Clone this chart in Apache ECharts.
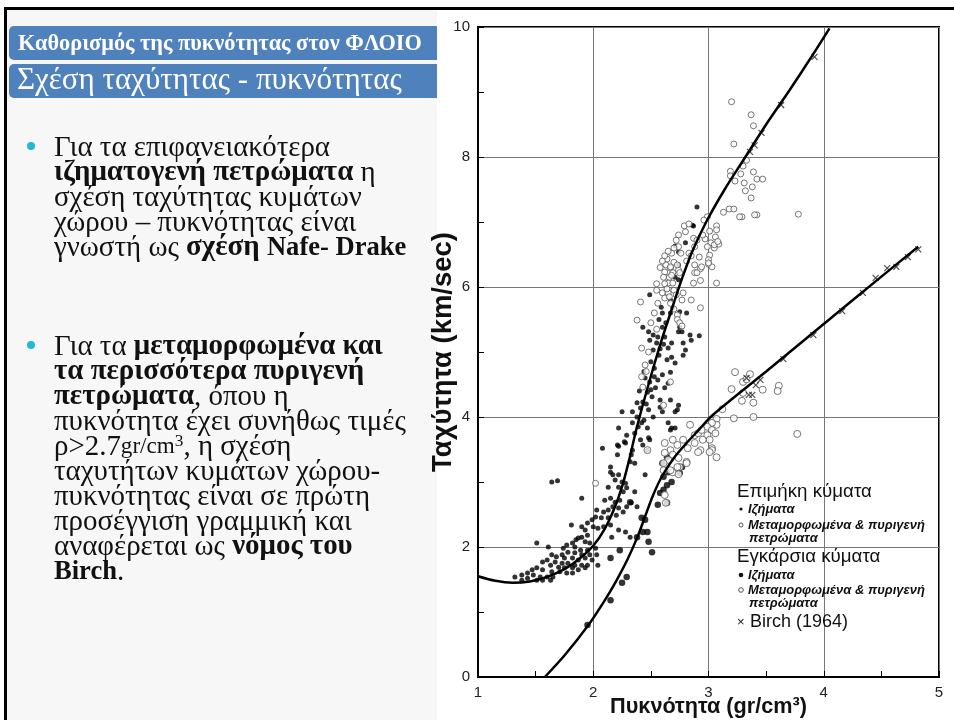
<!DOCTYPE html>
<html><head><meta charset="utf-8">
<script src="https://cdn.jsdelivr.net/npm/echarts@6/dist/echarts.min.js"></script>
<style>html,body{margin:0;padding:0;background:#fff}#c{width:954px;height:720px}</style>
</head><body><div id="c"></div>
<script>
// ---------- data ----------
const xTicks = [1, 2, 3, 4, 5];
const yTicks = [0, 2, 4, 6, 8, 10];
const xName = 'Πυκνότητα (gr/cm³)';
const yName = 'Ταχύτητα (km/sec)';

// Nafe-Drake curves
const curveP = [[1.0,1.55],[1.15,1.48],[1.3,1.45],[1.45,1.47],[1.6,1.54],[1.75,1.66],[1.88,1.82],[2.0,2.02],[2.1,2.28],[2.18,2.58],[2.25,2.93],[2.31,3.33],[2.37,3.78],[2.44,4.25],[2.52,4.75],[2.6,5.22],[2.68,5.65],[2.76,6.08],[2.86,6.55],[2.98,7.0],[3.14,7.5],[3.32,8.0],[3.5,8.5],[3.7,9.02],[3.9,9.56],[4.05,9.98]];
const curveS = [[1.58,0],[1.75,0.33],[1.95,0.78],[2.1,1.18],[2.2,1.48],[2.3,1.82],[2.38,2.14],[2.45,2.47],[2.52,2.8],[2.6,3.1],[2.7,3.37],[2.8,3.58],[2.92,3.81],[3.03,4.02],[3.5,4.7],[4.0,5.43],[4.5,6.16],[4.82,6.62]];

// P-waves, sediments
const pSed = [[1.32,1.54],[1.38,1.49],[1.38,1.57],[1.43,1.52],[1.43,1.6],[1.47,1.65],[1.48,1.57],[1.51,1.49],[1.51,1.68],[1.54,1.54],[1.56,1.49],[1.56,1.65],[1.56,1.77],[1.6,1.54],[1.6,1.8],[1.63,1.49],[1.63,1.72],[1.64,1.62],[1.65,1.54],[1.67,1.77],[1.68,1.85],[1.64,1.88],[1.7,1.69],[1.71,1.62],[1.73,1.75],[1.73,1.88],[1.74,1.98],[1.75,1.83],[1.75,1.68],[1.77,1.6],[1.77,2.03],[1.78,1.75],[1.78,1.92],[1.81,2.34],[1.82,1.68],[1.82,1.6],[1.82,1.83],[1.82,2.06],[1.84,1.72],[1.84,1.91],[1.84,2.0],[1.85,2.11],[1.87,1.65],[1.87,1.8],[1.87,2.14],[1.89,1.95],[1.9,1.72],[1.9,1.88],[1.9,2.15],[1.9,2.31],[1.9,2.75],[1.93,1.68],[1.93,1.83],[1.93,2.08],[1.93,2.26],[1.95,1.72],[1.95,1.95],[1.95,2.18],[1.95,2.37],[1.97,1.88],[1.97,2.06],[1.99,1.8],[1.99,2.42],[2.0,2.31],[2.02,1.98],[2.02,2.46],[2.03,1.88],[2.03,2.57],[2.04,1.72],[2.04,2.29],[2.07,2.45],[2.08,3.52],[2.09,2.31],[2.09,2.54],[2.1,2.72],[2.13,2.45],[2.13,2.57],[2.13,2.92],[2.15,2.34],[2.15,2.75],[2.15,3.15],[2.15,3.23],[2.16,2.15],[2.17,2.62],[2.17,3.11],[2.19,2.69],[2.19,3.03],[2.2,2.49],[2.21,3.42],[2.21,3.57],[2.22,2.26],[2.22,2.6],[2.22,2.92],[2.22,3.11],[2.22,3.55],[2.22,3.83],[2.23,2.72],[2.25,3.0],[2.25,4.08],[2.26,2.54],[2.26,2.85],[2.27,3.62],[2.28,2.23],[2.28,2.98],[2.28,3.6],[2.29,3.72],[2.29,2.62],[2.29,2.91],[2.32,2.15],[2.32,3.31],[2.33,2.68],[2.33,3.42],[2.34,3.49],[2.34,3.91],[2.34,4.08],[2.36,2.85],[2.36,3.29],[2.36,3.75],[2.38,2.62],[2.38,4.0],[2.38,4.22],[2.41,3.65],[2.41,4.14],[2.42,3.91],[2.43,4.23],[2.43,5.38],[2.43,3.57],[2.45,3.11],[2.47,3.49],[2.47,3.83],[2.47,4.38],[2.48,3.68],[2.48,4.11],[2.48,5.31],[2.49,3.65],[2.49,4.54],[2.49,5.18],[2.49,5.88],[2.51,4.31],[2.52,4.0],[2.52,5.03],[2.52,5.26],[2.54,4.45],[2.55,5.14],[2.56,4.57],[2.56,5.23],[2.58,4.15],[2.58,4.26],[2.59,5.69],[2.6,4.08],[2.6,4.65],[2.6,5.38],[2.62,4.45],[2.62,5.23],[2.64,4.88],[2.65,3.91],[2.65,4.52],[2.65,5.06],[2.67,3.8],[2.67,4.26],[2.67,4.69],[2.67,5.6],[2.67,5.8],[2.68,3.83],[2.68,4.92],[2.68,5.14],[2.69,5.68],[2.71,3.83],[2.71,4.08],[2.71,4.83],[2.71,6.15],[2.71,6.63],[2.73,4.11],[2.74,4.18],[2.74,5.31],[2.74,6.11],[2.74,6.34],[2.74,6.54],[2.75,5.38],[2.75,5.62],[2.77,5.31],[2.78,4.95],[2.78,5.14],[2.8,5.03],[2.8,6.68],[2.81,5.6],[2.84,5.26],[2.85,5.18],[2.86,6.95],[2.87,6.94],[2.9,7.23],[2.92,5.25],[1.64,3.0],[1.69,3.02],[1.51,2.06],[1.61,2.0],[2.44,4.7],[2.5,4.85],[2.53,4.75],[2.57,4.95],[2.45,4.6],[2.4,4.4],[2.39,3.85],[2.44,3.95],[2.46,4.2],[2.5,4.42],[2.53,4.62],[2.58,5.05],[2.61,5.12],[2.63,5.45],[2.57,5.5],[2.6,5.6]];

// P-waves, metamorphic & igneous rocks
const pMet = [[3.2,8.85],[3.37,8.65],[3.39,8.48],[3.22,8.2],[3.33,7.95],[3.19,7.78],[3.19,7.71],[3.23,7.63],[3.28,7.74],[3.3,7.86],[3.39,7.77],[3.42,7.66],[3.47,7.66],[3.31,7.6],[3.38,7.54],[3.32,7.48],[3.37,7.37],[3.78,7.12],[3.42,7.11],[3.29,7.08],[3.13,7.15],[3.18,7.2],[3.22,7.2],[2.99,7.08],[2.96,7.03],[2.79,6.94],[2.83,6.97],[3.07,6.94],[3.07,6.88],[3.01,6.86],[2.87,6.75],[2.8,6.85],[2.74,6.8],[2.72,6.72],[2.97,6.74],[3.06,6.77],[3.02,6.68],[3.09,6.66],[3.05,6.6],[2.99,6.62],[2.74,6.62],[2.76,6.52],[2.68,6.52],[2.83,6.52],[3.01,6.49],[2.92,6.46],[3.0,6.42],[3.0,6.35],[3.03,6.31],[2.64,6.43],[2.7,6.38],[2.63,6.34],[2.67,6.29],[2.74,6.26],[2.69,6.22],[2.62,6.23],[2.61,6.15],[2.88,6.22],[2.93,6.28],[2.66,6.15],[2.67,6.31],[2.73,6.34],[2.68,6.18],[2.75,6.22],[2.65,6.06],[2.69,6.06],[2.6,5.91],[2.65,5.91],[2.78,5.91],[2.62,5.83],[2.77,5.8],[2.41,5.77],[2.93,5.68],[2.38,5.49],[2.73,5.57],[2.88,6.34],[2.94,6.31],[2.9,6.22],[2.87,6.06],[3.07,6.06],[3.0,6.37],[2.42,5.06],[2.45,4.8],[2.42,4.62],[2.43,4.46],[2.67,4.54],[2.61,4.18],[3.27,7.08],[3.4,7.11],[2.62,6.05],[2.64,5.97],[2.66,5.85],[2.7,5.95],[2.72,5.88],[2.67,5.75],[2.7,5.66],[2.73,5.5],[2.75,5.45],[2.77,5.4],[2.58,6.3],[2.6,6.4],[2.62,6.48],[2.65,6.55],[2.7,6.6],[2.55,6.05],[2.56,5.75],[2.53,5.6],[2.5,5.45],[2.55,5.35],[2.48,5.0],[2.46,4.7],[2.55,5.95],[2.93,6.1],[2.85,5.8],[2.81,6.4],[2.85,6.48],[2.88,6.62],[2.9,6.72],[2.95,6.8],[3.05,6.65],[3.08,6.7],[2.02,2.98]];

// S-waves, sediments
const sSed = [[1.95,0.8],[2.15,1.18],[2.25,1.45],[2.29,1.54],[2.15,1.83],[2.23,1.95],[2.38,2.15],[2.43,2.23],[2.47,2.23],[2.48,2.08],[2.51,1.92],[2.45,2.42],[2.42,2.45],[2.32,2.69],[2.56,2.65],[2.64,2.68],[2.58,2.83],[2.61,2.88],[2.64,2.95],[2.68,3.0],[2.61,3.08],[2.65,3.15],[2.6,3.29],[2.77,3.23],[2.75,3.14],[2.64,3.38]];

// S-waves, metamorphic & igneous rocks
const sMet = [[3.23,4.69],[3.36,4.66],[3.3,4.54],[3.33,4.58],[3.2,4.43],[3.3,4.37],[3.47,4.42],[3.61,4.48],[3.6,4.4],[3.29,4.25],[3.39,4.22],[3.12,4.12],[3.22,3.98],[3.39,4.0],[3.77,3.74],[3.07,3.97],[3.07,3.88],[3.03,3.91],[2.99,3.85],[3.03,3.8],[3.06,3.75],[2.99,3.72],[3.01,3.65],[2.95,3.65],[3.03,3.52],[3.07,3.38],[2.93,3.49],[2.88,3.6],[2.88,3.72],[2.84,3.88],[2.78,3.65],[2.82,3.52],[2.73,3.57],[2.69,3.65],[2.62,3.6],[2.67,3.49],[2.62,3.45],[2.69,3.42],[2.65,3.34],[2.61,3.29],[2.74,3.37],[2.81,3.31],[2.75,3.23],[2.61,3.18],[2.69,3.15],[2.74,3.12],[2.91,3.75],[2.94,3.8],[2.47,3.49],[3.03,3.49],[2.67,3.18],[2.73,3.23],[2.81,3.29],[2.91,3.46],[3.01,3.46],[2.62,2.8],[2.63,2.68]];

// Birch (1964)
const birch = [[3.36,8.08],[3.4,8.18],[3.46,8.37],[3.63,8.8],[3.92,9.54],[3.35,4.34],[3.38,4.34],[3.41,4.49],[3.45,4.57],[3.33,4.6],[3.65,4.89],[3.91,5.26],[4.16,5.63],[4.34,5.91],[4.45,6.14],[4.55,6.29],[4.63,6.31],[4.73,6.46],[4.82,6.58]];

// slide text
const title1 = 'Καθορισμός της πυκνότητας στον ΦΛΟΙΟ';
const title2 = 'Σχέση ταχύτητας - πυκνότητας';
const bullet1 = ['Για τα επιφανειακότερα', '{b|ιζηματογενή πετρώματα} η', 'σχέση ταχύτητας κυμάτων', 'χώρου – πυκνότητας είναι', 'γνωστή ως {b|σχέση }{l|Nafe- Drake}'];
const bullet2 = ['Για τα {b|μεταμορφωμένα και}', '{b|τα περισσότερα πυριγενή}', '{b|πετρώματα}, όπου η', 'πυκνότητα έχει συνήθως τιμές', 'ρ>2.7{s|gr/cm}{t|3}{n|, η σχέση}', 'ταχυτήτων κυμάτων χώρου-', 'πυκνότητας είναι σε πρώτη', 'προσέγγιση γραμμική και', 'αναφέρεται ως {b|νόμος του}', '{l|Birch}.'];
const legHead1 = 'Επιμήκη κύματα';
const legHead2 = 'Εγκάρσια κύματα';
const legSed = 'Ιζήματα';
const legMet1 = 'Μεταμορφωμένα & πυριγενή';
const legMet2 = 'πετρώματα';
const legBirch = 'Birch (1964)';

// ---------- layout helpers ----------
const mctx = document.createElement('canvas').getContext('2d');
function fit(text, weight, style, family, target) {
  mctx.font = style + ' ' + weight + ' 100px ' + family;
  return 100 * target / mctx.measureText(text).width;
}
const SERIF = '"Liberation Serif", serif';
const SANS = '"Liberation Sans", Arial, sans-serif';
const bodySize = fit('πυκνότητα έχει συνήθως τιμές', 'normal', 'normal', SERIF, 352);
const t1Size = fit(title1, 'bold', 'normal', SERIF, 404);
const t2Size = fit(title2, 'normal', 'normal', SERIF, 385);
const headSize = fit(legHead1, 'normal', 'normal', SANS, 135);
const smallSize = fit(legMet1, 'bold', 'italic', SANS, 177);
const birchSize = fit(legBirch, 'normal', 'normal', SANS, 98);
const xNameSize = fit(xName, 'bold', 'normal', SANS, 197);
const yNameSize = fit(yName, 'bold', 'normal', SANS, 240);

const richBody = {
  b: { fontFamily: SERIF, fontSize: bodySize, fontWeight: 'bold', fill: '#111' },
  l: { fontFamily: SERIF, fontSize: bodySize * 0.92, fontWeight: 'bold', fill: '#111' },
  s: { fontFamily: SERIF, fontSize: bodySize * 0.8, fill: '#111' },
  t: { fontFamily: SERIF, fontSize: bodySize * 0.6, fill: '#111', verticalAlign: 'top', padding: [0, 0, 8, 0] },
  n: { fontFamily: SERIF, fontSize: bodySize, fill: '#111' }
};
function bodyLine(txt, y) {
  return { type: 'text', x: 54, y: y, z: 10, style: { text: txt, rich: richBody, fontFamily: SERIF, fontSize: bodySize, fill: '#111', verticalAlign: 'middle' } };
}
const graphics = [];
graphics.push({ type: 'rect', z: 0, shape: { x: 7, y: 10, width: 430, height: 710 }, style: { fill: '#f7f7f7' } });
graphics.push({ type: 'rect', z: 11, shape: { x: 4, y: 7, width: 950, height: 3 }, style: { fill: '#000' } });
graphics.push({ type: 'rect', z: 11, shape: { x: 4, y: 7, width: 3, height: 713 }, style: { fill: '#000' } });
graphics.push({ type: 'rect', z: 5, shape: { x: 9, y: 26, width: 428, height: 34, r: [5, 0, 0, 5] }, style: { fill: '#4f81bd' } });
graphics.push({ type: 'rect', z: 5, shape: { x: 9, y: 64, width: 428, height: 34, r: [5, 0, 0, 5] }, style: { fill: '#4f81bd' } });
graphics.push({ type: 'text', x: 18, y: 44, z: 10, style: { text: title1, fontFamily: SERIF, fontWeight: 'bold', fontSize: t1Size, fill: '#fff', verticalAlign: 'middle' } });
graphics.push({ type: 'text', x: 17, y: 81, z: 10, style: { text: title2, fontFamily: SERIF, fontSize: t2Size, fill: '#fff', verticalAlign: 'middle' } });
graphics.push({ type: 'circle', z: 10, shape: { cx: 31, cy: 146, r: 4 }, style: { fill: '#22b8d8' } });
graphics.push({ type: 'circle', z: 10, shape: { cx: 31, cy: 345, r: 4 }, style: { fill: '#22b8d8' } });
bullet1.forEach((t, i) => graphics.push(bodyLine(t, 148 + 25 * i)));
bullet2.forEach((t, i) => graphics.push(bodyLine(t, 347 + 25 * i)));

// legend (inside plot)
function legText(txt, x, y, size, weight, style) {
  return { type: 'text', x: x, y: y, z: 10, style: { text: txt, fontFamily: SANS, fontSize: size, fontWeight: weight, fontStyle: style, fill: '#111', verticalAlign: 'middle' } };
}
graphics.push(legText(legHead1, 737, 492, headSize, 'normal', 'normal'));
graphics.push({ type: 'circle', z: 10, shape: { cx: 741, cy: 509, r: 1.6 }, style: { fill: '#111' } });
graphics.push(legText(legSed, 748, 509, smallSize, 'bold', 'italic'));
graphics.push({ type: 'circle', z: 10, shape: { cx: 741, cy: 525, r: 2 }, style: { fill: '#fff', stroke: '#555', lineWidth: 1 } });
graphics.push(legText(legMet1, 748, 525, smallSize, 'bold', 'italic'));
graphics.push(legText(legMet2, 749, 538, smallSize, 'bold', 'italic'));
graphics.push(legText(legHead2, 737, 557, headSize, 'normal', 'normal'));
graphics.push({ type: 'circle', z: 10, shape: { cx: 741, cy: 575, r: 2.3 }, style: { fill: '#111' } });
graphics.push(legText(legSed, 748, 575, smallSize, 'bold', 'italic'));
graphics.push({ type: 'circle', z: 10, shape: { cx: 741, cy: 590, r: 2.3 }, style: { fill: '#fff', stroke: '#555', lineWidth: 1 } });
graphics.push(legText(legMet1, 748, 590, smallSize, 'bold', 'italic'));
graphics.push(legText(legMet2, 749, 603, smallSize, 'bold', 'italic'));
graphics.push(legText('×', 737, 622, 13, 'normal', 'normal'));
graphics.push(legText(legBirch, 750, 622, birchSize, 'normal', 'normal'));

const chart = echarts.init(document.getElementById('c'), null, { renderer: 'canvas' });
const axisCommon = {
  type: 'value',
  axisLine: { show: true, onZero: false, lineStyle: { color: '#000', width: 2 } },
  axisTick: { show: true, inside: true, length: 6, lineStyle: { color: '#000' } },
  minorTick: { show: true, splitNumber: 2, length: 6, lineStyle: { color: '#000', width: 1 } },
  splitLine: { show: true, lineStyle: { color: '#777', width: 1 } },
  axisLabel: { color: '#222', fontSize: 15, fontFamily: SANS, margin: 8 },
  nameLocation: 'middle',
  nameMoveOverlap: false,
  nameTextStyle: { fontFamily: SANS, fontWeight: 'bold', color: '#111' }
};
chart.setOption({
  animation: false,
  backgroundColor: '#fff',
  grid: { left: 478, right: 15, top: 27, bottom: 43, show: true, borderColor: '#000', borderWidth: 2, backgroundColor: 'transparent', outerBoundsMode: 'none', containLabel: false },
  xAxis: Object.assign({}, axisCommon, {
    min: xTicks[0], max: xTicks[xTicks.length - 1], interval: 1,
    name: xName, nameGap: 19, nameTextStyle: Object.assign({}, axisCommon.nameTextStyle, { fontSize: xNameSize })
  }),
  yAxis: Object.assign({}, axisCommon, {
    min: yTicks[0], max: yTicks[yTicks.length - 1], interval: 2,
    name: yName, nameGap: 21, nameTextStyle: Object.assign({}, axisCommon.nameTextStyle, { fontSize: yNameSize })
  }),
  graphic: graphics,
  series: [
    { type: 'scatter', data: pSed, symbol: 'circle', symbolSize: 5, itemStyle: { color: '#000' }, z: 2 },
    { type: 'scatter', data: sSed, symbol: 'circle', symbolSize: 6.5, itemStyle: { color: '#000' }, z: 2 },
    { type: 'scatter', data: pMet, symbol: 'circle', symbolSize: 6, itemStyle: { color: '#fff', borderColor: '#555', borderWidth: 1 }, z: 2 },
    { type: 'scatter', data: sMet, symbol: 'circle', symbolSize: 7, itemStyle: { color: '#fff', borderColor: '#555', borderWidth: 1 }, z: 2 },
    { type: 'scatter', data: birch, symbol: 'path://M0,0L10,10M10,0L0,10', symbolSize: 6, itemStyle: { color: 'none', borderColor: '#222', borderWidth: 1.2 }, z: 3 },
    { type: 'line', data: curveP, smooth: 0.3, symbol: 'none', lineStyle: { color: '#000', width: 2.5 }, z: 4 },
    { type: 'line', data: curveS, smooth: 0.3, symbol: 'none', lineStyle: { color: '#000', width: 2.5 }, z: 4 }
  ]
});
</script>
</body></html>
